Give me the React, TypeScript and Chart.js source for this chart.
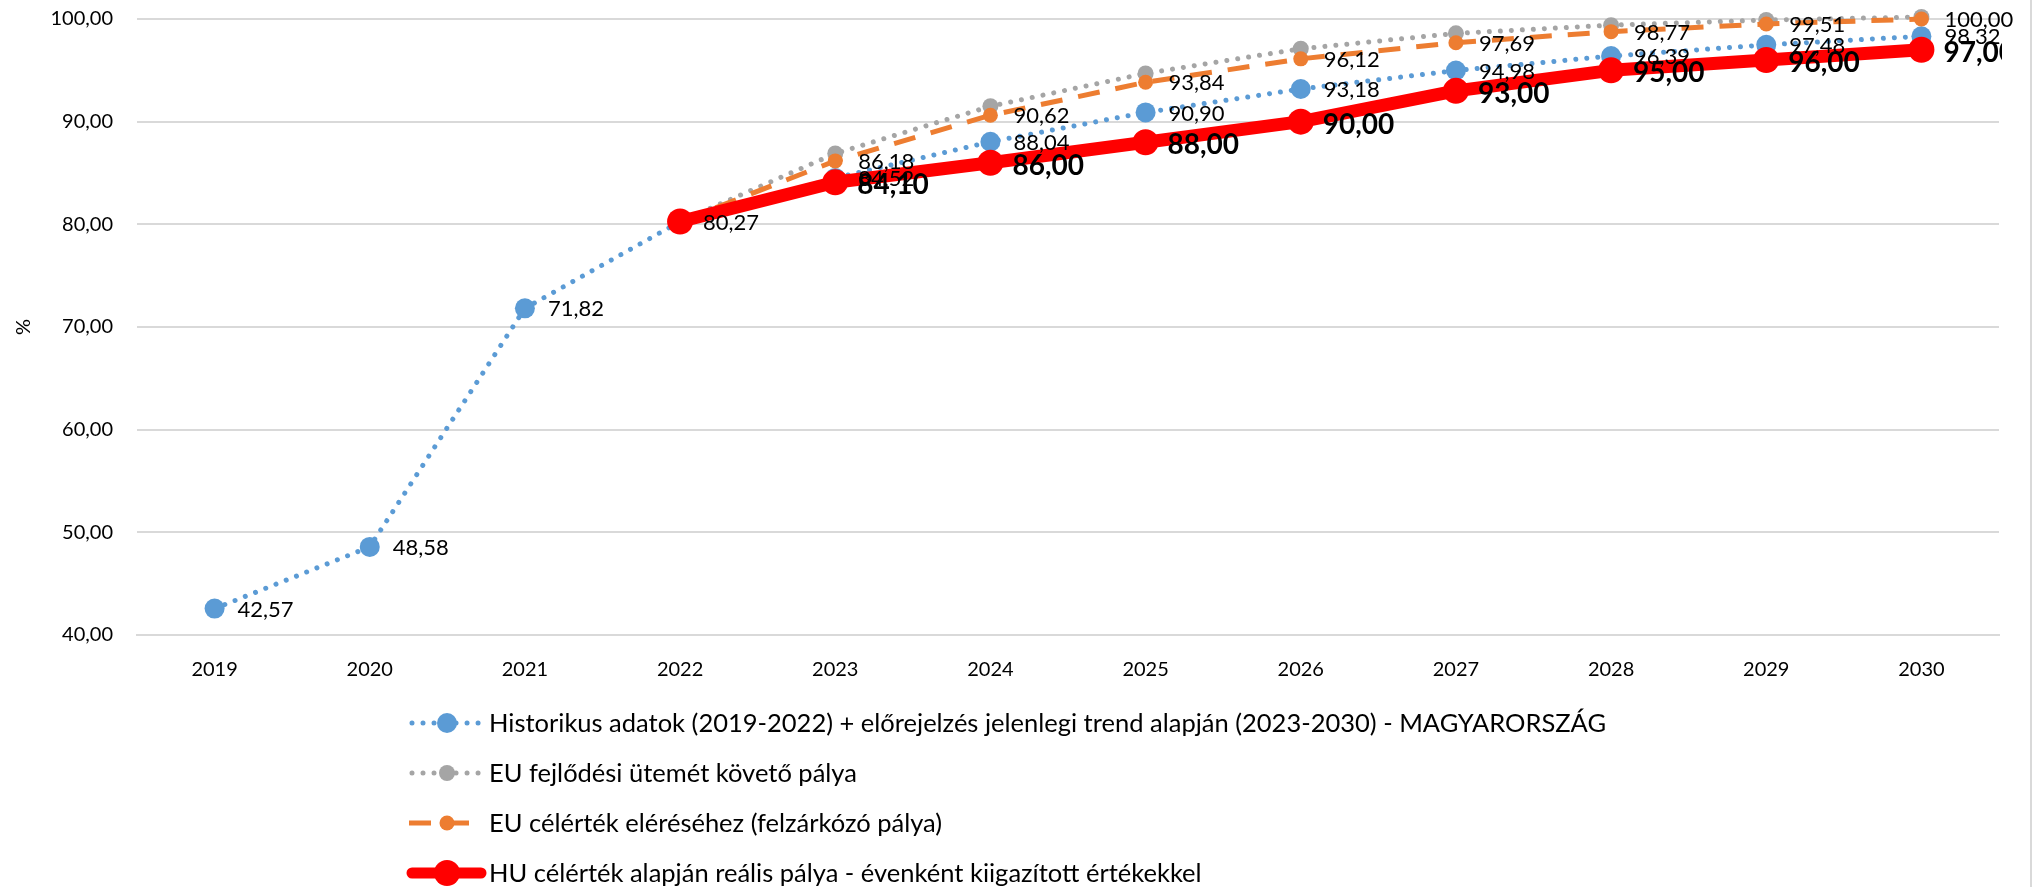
import React, { useEffect, useRef } from 'react';
import { Chart, registerables } from 'chart.js';

Chart.register(...registerables);

const years = ['2019', '2020', '2021', '2022', '2023', '2024', '2025', '2026', '2027', '2028', '2029', '2030'];
const historicTrend = [42.57, 48.58, 71.82, 80.27, 84.52, 88.04, 90.9, 93.18, 94.98, 96.39, 97.48, 98.32];
const euPace = [null, null, null, 80.27, 86.9, 91.5, 94.7, 97.1, 98.6, 99.4, 99.9, 100.2];
const euTarget = [null, null, null, 80.27, 86.18, 90.62, 93.84, 96.12, 97.69, 98.77, 99.51, 100.0];
const huRealistic = [null, null, null, 80.27, 84.1, 86.0, 88.0, 90.0, 93.0, 95.0, 96.0, 97.0];
const yTicks = [40, 50, 60, 70, 80, 90, 100];

const legendLabels = [
  'Historikus adatok (2019-2022) + előrejelzés jelenlegi trend alapján (2023-2030) - MAGYARORSZÁG',
  'EU fejlődési ütemét követő pálya',
  'EU célérték eléréséhez (felzárkózó pálya)',
  'HU célérték alapján reális pálya - évenként kiigazított értékekkel',
];

const FONT = 'Lato, "Liberation Sans", sans-serif';
const fmt = (v: number) => v.toFixed(2).replace('.', ',');

const BLUE = '#5B9BD5';
const GRAY = '#A5A5A5';
const ORANGE = '#ED7D31';
const RED = '#FF0000';

const styles = [
  { color: BLUE, width: 5, dash: [0.01, 11], radius: 10, cap: 'round' },
  { color: GRAY, width: 5, dash: [0.01, 11], radius: 8, cap: 'round' },
  { color: ORANGE, width: 5, dash: [22, 16], radius: 7.5, cap: 'butt' },
  { color: RED, width: 13, dash: [], radius: 13, cap: 'round' },
];

// which series carry value labels, from which category index, and in which weight
const labelSpecs = [
  { ds: 0, from: 0, bold: false, clip: false },
  { ds: 2, from: 4, bold: false, clip: false },
  { ds: 3, from: 4, bold: true, clip: true },
];

const valueLabelPlugin = {
  id: 'valueLabels',
  afterDatasetsDraw(chart: any) {
    const ctx = chart.ctx;
    ctx.save();
    ctx.textBaseline = 'middle';
    ctx.textAlign = 'left';
    ctx.fillStyle = '#000';
    for (const spec of labelSpecs) {
      const meta = chart.getDatasetMeta(spec.ds);
      const data = chart.data.datasets[spec.ds].data;
      ctx.save();
      if (spec.clip) {
        ctx.beginPath();
        ctx.rect(0, 0, chart.chartArea.right + 3, chart.height);
        ctx.clip();
      }
      ctx.font = spec.bold ? `bold 28px ${FONT}` : `22px ${FONT}`;
      meta.data.forEach((pt: any, i: number) => {
        const v = data[i];
        if (v === null || v === undefined || i < spec.from) return;
        const dx = spec.bold ? 22 : 23;
        const dy = spec.bold ? 3 : 1;
        ctx.fillText(fmt(v), pt.x + dx, pt.y + dy);
      });
      ctx.restore();
    }
    ctx.restore();
  },
};

const legendPlugin = {
  id: 'customLegend',
  afterDraw(chart: any) {
    const ctx = chart.ctx;
    const rowsY = [723, 773, 823, 873];
    const x0 = 409;
    const x1 = 484;
    const mid = 447;
    ctx.save();
    styles.forEach((s, i) => {
      const y = rowsY[i];
      ctx.strokeStyle = s.color;
      ctx.lineWidth = i === 3 ? 11 : s.width;
      ctx.lineCap = s.cap;
      ctx.setLineDash(s.dash);
      ctx.beginPath();
      ctx.moveTo(x0 + (s.cap === 'round' ? 3 : 0), y);
      ctx.lineTo(x1 - (s.cap === 'round' ? 3 : 0), y);
      ctx.stroke();
      ctx.setLineDash([]);
      ctx.fillStyle = s.color;
      ctx.beginPath();
      ctx.arc(mid, y, s.radius, 0, Math.PI * 2);
      ctx.fill();
      ctx.fillStyle = '#000';
      ctx.font = `25.5px ${FONT}`;
      ctx.textBaseline = 'middle';
      ctx.textAlign = 'left';
      ctx.fillText(legendLabels[i], 489, y + 1);
    });
    // chart border on the right
    ctx.strokeStyle = '#D9D9D9';
    ctx.lineWidth = 2;
    ctx.beginPath();
    ctx.moveTo(2031, 0);
    ctx.lineTo(2031, chart.height);
    ctx.stroke();
    ctx.restore();
  },
};

const seriesData = [historicTrend, euPace, euTarget, huRealistic];
const drawOrder = [4, 3, 2, 1];

export default function App() {
  const ref = useRef<HTMLCanvasElement>(null);

  useEffect(() => {
    if (!ref.current) return;
    Chart.defaults.font.family = FONT;
    const chart = new Chart(ref.current, {
      type: 'line',
      data: {
        labels: years,
        datasets: seriesData.map((d, i) => ({
          label: legendLabels[i],
          data: d,
          borderColor: styles[i].color,
          backgroundColor: styles[i].color,
          borderWidth: styles[i].width,
          borderDash: styles[i].dash,
          borderCapStyle: styles[i].cap as any,
          borderJoinStyle: 'round' as any,
          pointRadius: styles[i].radius,
          pointHoverRadius: styles[i].radius,
          pointBackgroundColor: styles[i].color,
          pointBorderWidth: 0,
          tension: 0,
          spanGaps: false,
          clip: false as any,
          order: drawOrder[i],
        })),
      },
      options: {
        responsive: false,
        animation: false,
        events: [],
        layout: { autoPadding: false, padding: { left: 0, top: 19, right: 36, bottom: 187 } },
        plugins: {
          legend: { display: false },
          tooltip: { enabled: false },
        },
        scales: {
          x: {
            offset: true,
            grid: { display: false, drawTicks: false },
            border: { display: true, color: '#D9D9D9', width: 2 },
            ticks: { color: '#000', font: { size: 20, family: FONT }, padding: 23 },
            afterFit: (s: any) => {
              s.height = 65;
            },
          },
          y: {
            min: 40,
            max: 100,
            afterBuildTicks: (s: any) => {
              s.ticks = yTicks.map((v) => ({ value: v }));
            },
            grid: { color: '#D9D9D9', lineWidth: 2, drawTicks: false },
            border: { display: false },
            ticks: {
              color: '#000',
              font: { size: 20, family: FONT },
              padding: 24,
              callback: (v: any) => fmt(Number(v)),
            },
            title: {
              display: true,
              text: '%',
              color: '#000',
              font: { size: 20, family: FONT },
              padding: { top: 12, bottom: 0 },
            },
            afterFit: (s: any) => {
              s.width = 137;
              s.paddingTop = 12;
              s.paddingBottom = 12;
            },
          },
        },
      },
      plugins: [valueLabelPlugin, legendPlugin],
    });
    return () => chart.destroy();
  }, []);

  return (
    <div style={{ position: 'fixed', left: 0, top: 0, width: 2035, height: 887, background: '#fff' }}>
      <canvas ref={ref} width={2035} height={887} style={{ display: 'block' }} />
    </div>
  );
}
